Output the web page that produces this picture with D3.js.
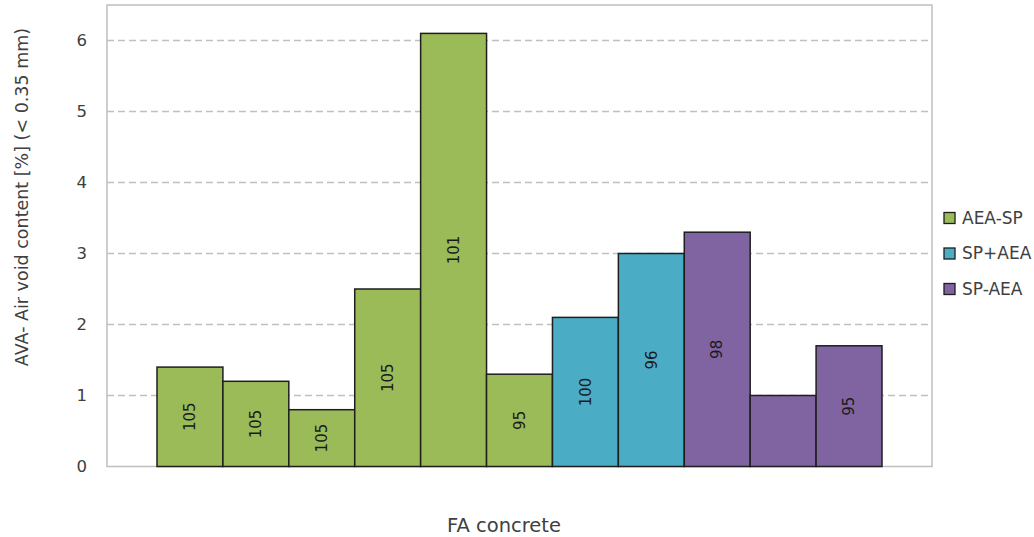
<!DOCTYPE html>
<html>
<head>
<meta charset="utf-8">
<script src="https://cdn.jsdelivr.net/npm/d3@7"></script>
<style>
  html, body { margin: 0; padding: 0; background: #fff; }
  svg { display: block; }
  text { font-family: "DejaVu Sans", sans-serif; fill: #404040; }
</style>
</head>
<body>
<svg id="chart" width="1034" height="537"></svg>
<script>
// ---- data ----
const barIds    = ["b1","b2","b3","b4","b5","b6","b7","b8","b9","b10","b11"];
const barGroups = ["AEA-SP","AEA-SP","AEA-SP","AEA-SP","AEA-SP","AEA-SP","SP+AEA","SP+AEA","SP-AEA","SP-AEA","SP-AEA"];
const barValues = [1.4, 1.2, 0.8, 2.5, 6.1, 1.3, 2.1, 3.0, 3.3, 1.0, 1.7];
const barLabels = ["105","105","105","105","101","95","100","96","98","","95"];
const seriesNames = ["AEA-SP","SP+AEA","SP-AEA"];
const seriesColors = ["#9BBB59","#4BACC6","#8064A2"];
const yTicks = [0,1,2,3,4,5,6];
const category = "FA concrete";
const yTitle = "AVA- Air void content [%] (< 0.35 mm)";

// ---- layout ----
const svg = d3.select("#chart");
const plot = {left: 107, right: 932, top: 5, bottom: 466.5};
const groupGap = 50;

const y = d3.scaleLinear().domain([0, 6.5]).range([plot.bottom, plot.top]);
const x = d3.scaleBand().domain(barIds).range([plot.left + groupGap, plot.right - groupGap]).padding(0);
const color = d3.scaleOrdinal().domain(seriesNames).range(seriesColors);

// gridlines
svg.append("g").selectAll("line").data(yTicks.filter(t => t > 0)).join("line")
  .attr("x1", plot.left).attr("x2", plot.right)
  .attr("y1", d => y(d)).attr("y2", d => y(d))
  .attr("stroke", "#c0c0c0").attr("stroke-width", 1.3).attr("stroke-dasharray", "7,4");

// plot border
svg.append("rect")
  .attr("x", plot.left).attr("y", plot.top)
  .attr("width", plot.right - plot.left).attr("height", plot.bottom - plot.top)
  .attr("fill", "none").attr("stroke", "#bfbfbf").attr("stroke-width", 1.5);

// y axis tick labels
const yAxis = d3.axisLeft(y).tickValues(yTicks).tickSize(0).tickPadding(20).tickFormat(d3.format("d"));
const yg = svg.append("g").attr("transform", `translate(${plot.left},0)`).call(yAxis);
yg.select(".domain").remove();
yg.selectAll("text").style("font-size", "16.5px").style("fill", "#404040")
  .style("font-family", '"DejaVu Sans", sans-serif');

// bars
const data = barIds.map((id, i) => ({id, group: barGroups[i], value: barValues[i], label: barLabels[i]}));
svg.append("g").selectAll("rect").data(data).join("rect")
  .attr("x", d => x(d.id)).attr("width", x.bandwidth())
  .attr("y", d => y(d.value)).attr("height", d => y(0) - y(d.value))
  .attr("fill", d => color(d.group))
  .attr("stroke", "#1e1e1e").attr("stroke-width", 1.5);

// bar labels (rotated)
svg.append("g").selectAll("text").data(data.filter(d => d.label !== "")).join("text")
  .attr("transform", d => `translate(${x(d.id) + x.bandwidth() / 2},${(y(d.value) + y(0)) / 2}) rotate(-90)`)
  .attr("text-anchor", "middle").attr("dy", "0.35em")
  .style("font-size", "15px").style("fill", "#1a1a1a")
  .text(d => d.label);

// axis titles
svg.append("text")
  .attr("transform", "translate(22,197) rotate(-90)")
  .attr("text-anchor", "middle").attr("dy", "0.35em")
  .style("font-size", "17.5px")
  .text(yTitle);

svg.append("text")
  .attr("x", 504).attr("y", 525)
  .attr("text-anchor", "middle").attr("dy", "0.35em")
  .style("font-size", "19.5px")
  .text(category);

// legend
const lg = svg.append("g").selectAll("g").data(seriesNames).join("g")
  .attr("transform", (d, i) => `translate(944,${218 + i * 35.5})`);
lg.append("rect").attr("x", 0).attr("y", -5.5).attr("width", 11).attr("height", 11)
  .attr("fill", d => color(d)).attr("stroke", "#1e1e1e").attr("stroke-width", 1.3);
lg.append("text").attr("x", 18).attr("dy", "0.35em")
  .style("font-size", "17px")
  .text(d => d);
</script>
</body>
</html>
